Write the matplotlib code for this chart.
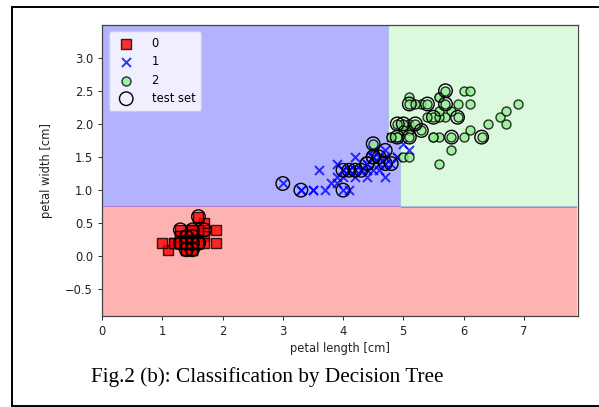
import numpy as np
import matplotlib
matplotlib.use('Agg')
import matplotlib.pyplot as plt
from matplotlib.colors import ListedColormap
from matplotlib.lines import Line2D

# iris petal length / width, one list per class
len_0 = [1.4, 1.4, 1.3, 1.5, 1.4, 1.7, 1.4, 1.5, 1.4, 1.5, 1.5, 1.6, 1.4, 1.1, 1.2, 1.5, 1.3, 1.4, 1.7, 1.5,
         1.7, 1.5, 1.0, 1.7, 1.9, 1.6, 1.6, 1.5, 1.4, 1.6, 1.6, 1.5, 1.5, 1.4, 1.5, 1.2, 1.3, 1.4, 1.3, 1.5,
         1.3, 1.3, 1.3, 1.6, 1.9, 1.4, 1.6, 1.4, 1.5, 1.4]
wid_0 = [0.2, 0.2, 0.2, 0.2, 0.2, 0.4, 0.3, 0.2, 0.2, 0.1, 0.2, 0.2, 0.1, 0.1, 0.2, 0.4, 0.4, 0.3, 0.3, 0.3,
         0.2, 0.4, 0.2, 0.5, 0.2, 0.2, 0.4, 0.2, 0.2, 0.2, 0.2, 0.4, 0.1, 0.2, 0.2, 0.2, 0.2, 0.1, 0.2, 0.2,
         0.3, 0.3, 0.2, 0.6, 0.4, 0.3, 0.2, 0.2, 0.2, 0.2]
len_1 = [4.7, 4.5, 4.9, 4.0, 4.6, 4.5, 4.7, 3.3, 4.6, 3.9, 3.5, 4.2, 4.0, 4.7, 3.6, 4.4, 4.5, 4.1, 4.5, 3.9,
         4.8, 4.0, 4.9, 4.7, 4.3, 4.4, 4.8, 5.0, 4.5, 3.5, 3.8, 3.7, 3.9, 5.1, 4.5, 4.5, 4.7, 4.4, 4.1, 4.0,
         4.4, 4.6, 4.0, 3.3, 4.2, 4.2, 4.2, 4.3, 3.0, 4.1]
wid_1 = [1.4, 1.5, 1.5, 1.3, 1.5, 1.3, 1.6, 1.0, 1.3, 1.4, 1.0, 1.5, 1.0, 1.4, 1.3, 1.4, 1.5, 1.0, 1.5, 1.1,
         1.8, 1.3, 1.5, 1.2, 1.3, 1.4, 1.4, 1.7, 1.5, 1.0, 1.1, 1.0, 1.2, 1.6, 1.5, 1.6, 1.5, 1.3, 1.3, 1.3,
         1.2, 1.4, 1.2, 1.0, 1.3, 1.2, 1.3, 1.3, 1.1, 1.3]
len_2 = [6.0, 5.1, 5.9, 5.6, 5.8, 6.6, 4.5, 6.3, 5.8, 6.1, 5.1, 5.3, 5.5, 5.0, 5.1, 5.3, 5.5, 6.7, 6.9, 5.0,
         5.7, 4.9, 6.7, 4.9, 5.7, 6.0, 4.8, 4.9, 5.6, 5.8, 6.1, 6.4, 5.6, 5.1, 5.6, 6.1, 5.6, 5.5, 4.8, 5.4,
         5.6, 5.1, 5.1, 5.9, 5.7, 5.2, 5.0, 5.2, 5.4, 5.1]
wid_2 = [2.5, 1.9, 2.1, 1.8, 2.2, 2.1, 1.7, 1.8, 1.8, 2.5, 2.0, 1.9, 2.1, 2.0, 2.4, 2.3, 1.8, 2.2, 2.3, 1.5,
         2.3, 2.0, 2.0, 1.8, 2.1, 1.8, 1.8, 1.8, 2.1, 1.6, 1.9, 2.0, 2.2, 1.5, 1.4, 2.3, 2.4, 1.8, 1.8, 2.1,
         2.4, 2.3, 1.9, 2.3, 2.5, 2.3, 1.9, 2.0, 2.3, 1.8]

# test set points
test_len = [1.3, 1.5, 1.6, 1.7, 1.4, 1.5, 1.4, 1.5, 1.6, 1.4, 1.5, 1.4, 1.5, 1.3, 1.6,
            3.0, 3.3, 4.0, 4.0, 4.2, 4.3, 4.4, 4.5, 4.7, 4.7, 4.8, 4.6, 4.1, 4.5, 4.4,
            5.7, 5.1, 5.4, 5.7, 5.9, 5.5, 4.9, 5.0, 5.2, 5.3, 5.1, 4.9, 5.8, 6.3, 4.5]
test_wid = [0.4, 0.4, 0.6, 0.4, 0.3, 0.3, 0.2, 0.2, 0.2, 0.1, 0.1, 0.2, 0.2, 0.2, 0.2,
            1.1, 1.0, 1.3, 1.0, 1.3, 1.3, 1.4, 1.5, 1.6, 1.4, 1.4, 1.5, 1.3, 1.5, 1.4,
            2.5, 2.3, 2.3, 2.3, 2.1, 2.1, 2.0, 2.0, 2.0, 1.9, 1.8, 1.8, 1.8, 1.8, 1.7]

# tree splits
split_w1 = 0.75
split_w2 = 1.75
split_l_hi = 4.75
split_l_lo = 4.95

colors = ('red', 'blue', 'lightgreen')
markers = ('s', 'x', 'o')
k = 0.83  # the figure was shrunk

fig = plt.figure(figsize=(5.99, 4.07), dpi=100)
ax = fig.add_axes([0.1703, 0.2236, 0.7947, 0.7162])

# decision regions
xx1, xx2 = np.meshgrid(np.arange(0, 7.9, 0.02), np.arange(-0.9, 3.5, 0.02))
Z = np.where(xx2 <= split_w1, 0,
             np.where(xx1 <= np.where(xx2 <= split_w2, split_l_lo, split_l_hi), 1, 2))
ax.contourf(xx1, xx2, Z, levels=[-0.5, 0.5, 1.5, 2.5], alpha=0.3, cmap=ListedColormap(colors))

data = [(len_0, wid_0), (len_1, wid_1), (len_2, wid_2)]
for idx, (xs, ys) in enumerate(data):
    if markers[idx] == 'x':
        ax.scatter(xs, ys, alpha=0.8, c=colors[idx], marker='x', s=42,
                   linewidths=1.4, label=str(idx))
    else:
        ax.scatter(xs, ys, alpha=0.8, c=colors[idx], marker=markers[idx], s=42,
                   edgecolor='black', linewidths=1.0, label=str(idx))

ax.scatter(test_len, test_wid, facecolor='none', edgecolor='black', alpha=1.0,
           linewidths=1.0, marker='o', s=95, label='test set')

ax.set_xlim(0, 7.9)
ax.set_ylim(-0.9, 3.5)
ax.set_xticks(range(8))
ax.set_yticks([-0.5, 0.0, 0.5, 1.0, 1.5, 2.0, 2.5, 3.0])
ax.tick_params(labelsize=10 * k, width=0.8 * k, length=3.5 * k, colors='#222222')
for s in ax.spines.values():
    s.set_linewidth(0.9)
    s.set_color('#444444')
ax.set_xlabel('petal length [cm]', fontsize=10 * k, color='#222222', labelpad=3)
ax.set_ylabel('petal width [cm]', fontsize=10 * k, color='#222222', labelpad=9)
ax.legend(loc='upper left', fontsize=10 * k, borderpad=0.5, handletextpad=1.2,
          labelspacing=0.45, handlelength=2.0, borderaxespad=0.6)

# caption and page frame
fig.text(0.446, 0.073, 'Fig.2 (b): Classification by Decision Tree', ha='center', va='center',
         fontsize=15.3, family='Liberation Serif')
fig.lines.extend([
    Line2D([0.02, 1.0], [0.983, 0.983], transform=fig.transFigure, color='black', lw=1.4),
    Line2D([0.02, 0.02], [0.983, 0.003], transform=fig.transFigure, color='black', lw=1.4),
    Line2D([0.02, 1.0], [0.003, 0.003], transform=fig.transFigure, color='black', lw=1.4),
])

plt.savefig('out.png', dpi=100)
